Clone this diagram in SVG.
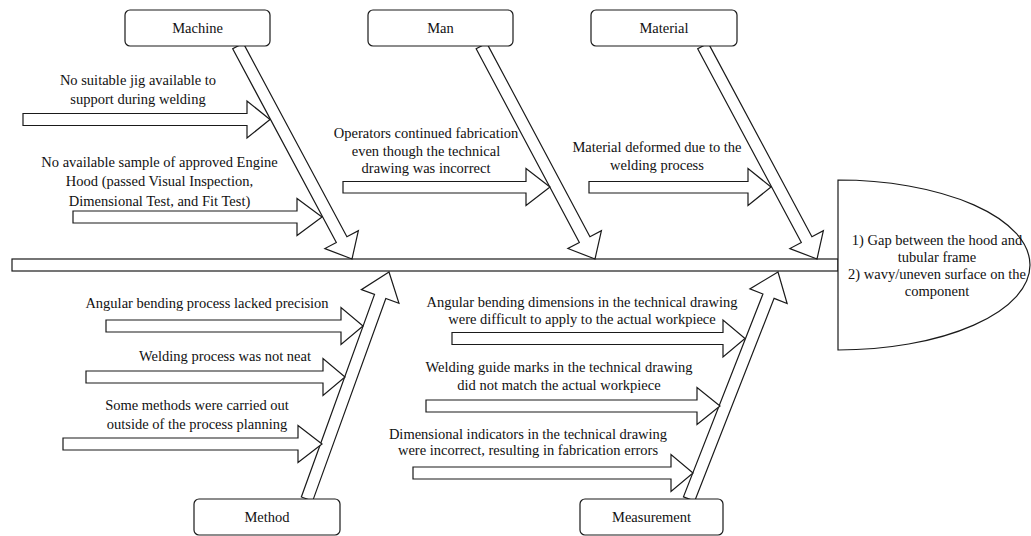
<svg xmlns="http://www.w3.org/2000/svg" width="1031" height="536" viewBox="0 0 1031 536" font-family="Liberation Serif, Times New Roman, serif">
<style>
.ln{fill:#fff;stroke:#1a1a1a;stroke-width:1.2;stroke-linejoin:miter}
.box{fill:#fff;stroke:#1a1a1a;stroke-width:1.2}
.t{font-size:14.5px;fill:#111;text-anchor:middle}
</style>
<rect width="1031" height="536" fill="#fff"/>
<g id="connectors">
  <rect class="ln" x="12" y="259" width="826" height="12"/>
  <polygon class="ln" transform="translate(352,259) rotate(61.84)" points="0,0 -22,-19 -22,-6 -241.6,-6 -241.6,6 -22,6 -22,19"/>
  <polygon class="ln" transform="translate(595,259) rotate(61.94)" points="0,0 -22,-19 -22,-6 -241.4,-6 -241.4,6 -22,6 -22,19"/>
  <polygon class="ln" transform="translate(817,259) rotate(61.84)" points="0,0 -22,-19 -22,-6 -241.6,-6 -241.6,6 -22,6 -22,19"/>
  <polygon class="ln" transform="translate(389,272) rotate(-70.14)" points="0,0 -26,-20 -26,-6 -241.4,-6 -241.4,6 -26,6 -26,20"/>
  <polygon class="ln" transform="translate(778,272) rotate(-68.6)" points="0,0 -26,-20 -26,-6 -243.8,-6 -243.8,6 -26,6 -26,20"/>
  <polygon class="ln" points="23,113.5 247,113.5 247,101 270,119.5 247,138 247,125.5 23,125.5"/>
  <polygon class="ln" points="73,211 297,211 297,198.5 322,217 297,235.5 297,223 73,223"/>
  <polygon class="ln" points="343,181.5 526,181.5 526,168.5 550,187 526,205.5 526,193 343,193"/>
  <polygon class="ln" points="589,181.5 748,181.5 748,168.5 771,187 748,205.5 748,193 589,193"/>
  <polygon class="ln" points="106,320 341,320 341,307.5 363,326 341,344.5 341,332 106,332"/>
  <polygon class="ln" points="86,371 323,371 323,358.5 345,377 323,395.5 323,383 86,383"/>
  <polygon class="ln" points="63,438 298,438 298,425.5 322,444 298,462.5 298,450 63,450"/>
  <polygon class="ln" points="452,332.5 723,332.5 723,320 745,338.5 723,357 723,344.5 452,344.5"/>
  <polygon class="ln" points="426,400 697,400 697,387.5 720,406 697,424.5 697,412 426,412"/>
  <polygon class="ln" points="413,467 671,467 671,454.5 693,473 671,491.5 671,479 413,479"/>
</g>
<g id="machine"><rect class="box" x="125" y="10" width="145" height="36" rx="5"/><text class="t" x="197.5" y="33">Machine</text></g>
<g id="man"><rect class="box" x="368" y="10" width="145" height="36" rx="5"/><text class="t" x="440.5" y="33">Man</text></g>
<g id="material"><rect class="box" x="591" y="10" width="146" height="36" rx="5"/><text class="t" x="664" y="33">Material</text></g>
<g id="method"><rect class="box" x="194" y="499" width="146" height="36" rx="5"/><text class="t" x="267" y="522">Method</text></g>
<g id="measurement"><rect class="box" x="580" y="499" width="143" height="36" rx="5"/><text class="t" x="651.5" y="522">Measurement</text></g>
<g id="effect">
  <path class="box" d="M838,180 A192,85 0 0 1 838,350 Z"/>
  <text class="t" x="937" y="245">1) Gap between the hood and</text>
  <text class="t" x="937" y="262">tubular frame</text>
  <text class="t" x="937" y="279">2) wavy/uneven surface on the</text>
  <text class="t" x="937" y="296">component</text>
</g>
<g id="cause-machine-1"><text class="t" x="138" y="85">No suitable jig available to</text><text class="t" x="138" y="104">support during welding</text></g>
<g id="cause-machine-2"><text class="t" x="159.5" y="166.5">No available sample of approved Engine</text><text class="t" x="159.5" y="186">Hood (passed Visual Inspection,</text><text class="t" x="159.5" y="205.5">Dimensional Test, and Fit Test)</text></g>
<g id="cause-man-1"><text class="t" x="426" y="138">Operators continued fabrication</text><text class="t" x="426" y="155.5">even though the technical</text><text class="t" x="426" y="173">drawing was incorrect</text></g>
<g id="cause-material-1"><text class="t" x="657" y="152">Material deformed due to the</text><text class="t" x="657" y="170">welding process</text></g>
<g id="cause-method-1"><text class="t" x="207" y="308">Angular bending process lacked precision</text></g>
<g id="cause-method-2"><text class="t" x="225" y="361">Welding process was not neat</text></g>
<g id="cause-method-3"><text class="t" x="197" y="410">Some methods were carried out</text><text class="t" x="197" y="429">outside of the process planning</text></g>
<g id="cause-measurement-1"><text class="t" x="582" y="306.5">Angular bending dimensions in the technical drawing</text><text class="t" x="582" y="324">were difficult to apply to the actual workpiece</text></g>
<g id="cause-measurement-2"><text class="t" x="559" y="372">Welding guide marks in the technical drawing</text><text class="t" x="559" y="390">did not match the actual workpiece</text></g>
<g id="cause-measurement-3"><text class="t" x="528" y="439">Dimensional indicators in the technical drawing</text><text class="t" x="528" y="455">were incorrect, resulting in fabrication errors</text></g>
</svg>
